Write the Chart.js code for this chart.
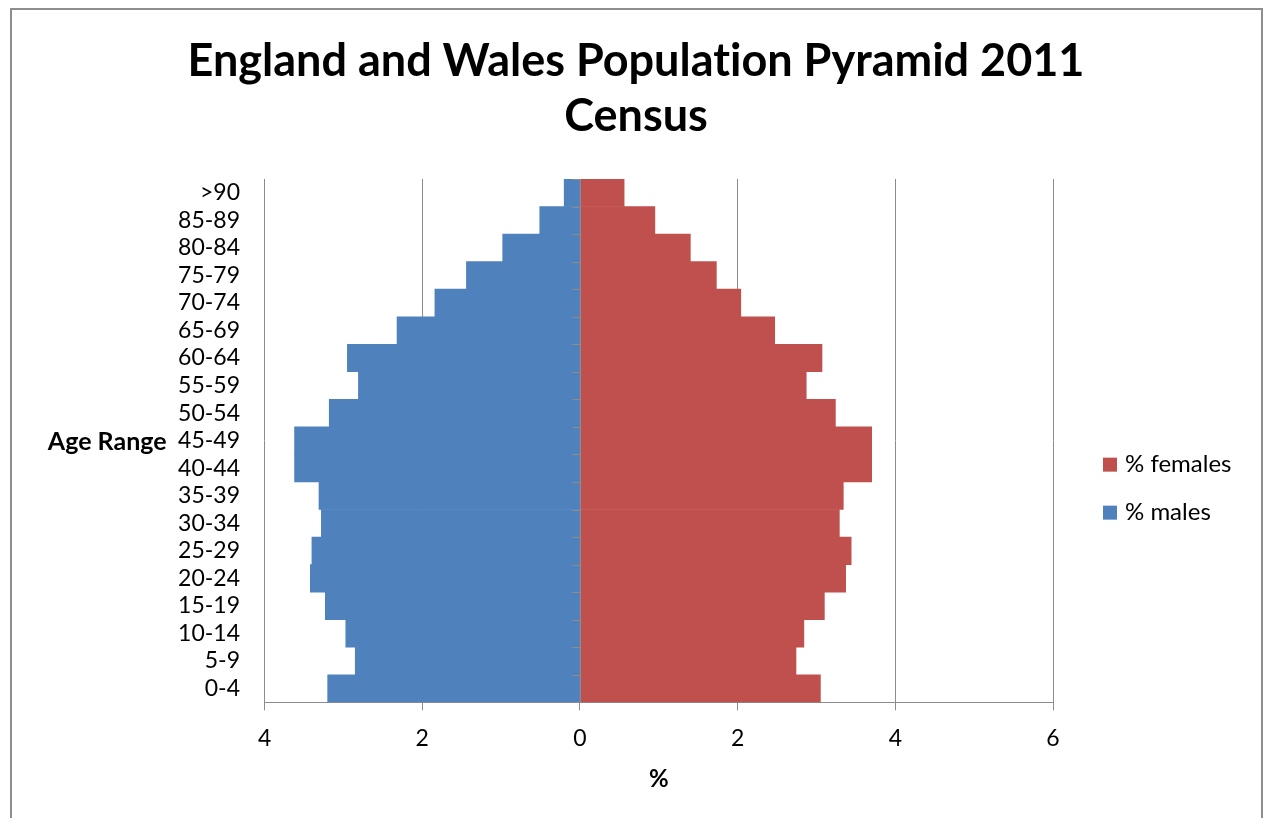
<!DOCTYPE html>
<html>
<head>
<meta charset="utf-8">
<script src="https://cdn.jsdelivr.net/npm/chart.js@4"></script>
<style>
  html, body { margin: 0; padding: 0; background: #ffffff; overflow: hidden; }
  #wrap { position: relative; width: 1268px; height: 818px; }
  #frame { position: absolute; left: 10px; top: 8px; width: 1249px; height: 830px;
           border: 2px solid #8e8e8e; border-bottom: none; pointer-events: none; }
  canvas { position: absolute; left: 0; top: 0; }
</style>
</head>
<body>
<div id="wrap">
  <canvas id="pyramid" width="1268" height="818"></canvas>
  <div id="frame"></div>
</div>
<script>
// Age bands, youngest first (the y axis is reversed so 0-4 sits at the bottom)
const ageGroups = ['0-4', '5-9', '10-14', '15-19', '20-24', '25-29', '30-34', '35-39', '40-44',
                   '45-49', '50-54', '55-59', '60-64', '65-69', '70-74', '75-79', '80-84', '85-89', '>90'];

// Share of the total population in each band (%)
const malesPct   = [3.20, 2.85, 2.97, 3.23, 3.42, 3.40, 3.28, 3.31, 3.62, 3.62,
                    3.18, 2.81, 2.95, 2.32, 1.84, 1.44, 0.98, 0.51, 0.20];
const femalesPct = [3.05, 2.74, 2.84, 3.10, 3.37, 3.44, 3.29, 3.34, 3.70, 3.70,
                    3.24, 2.87, 3.07, 2.47, 2.04, 1.73, 1.40, 0.95, 0.56];

// Tick positions on the % axis (males plotted to the left of zero)
const xTickValues = [-4, -2, 0, 2, 4, 6];

const titleLines = ['England and Wales Population Pyramid 2011', 'Census'];
const seriesNames = { females: '% females', males: '% males' };

const COLORS = { males: '#4F81BD', females: '#C0504D', grid: '#8c8c8c', text: '#000000' };
const FONT = 'Lato, "Open Sans", "Liberation Sans", sans-serif';

// Plain glyphs (no ligatures) for all canvas text
const plainText = {
  id: 'plainText',
  beforeDraw(chart) { chart.ctx.textRendering = 'optimizeSpeed'; }
};

// Zero axis, its category tick marks, the vertical axis caption and the legend
const decorations = {
  id: 'decorations',
  afterDatasetsDraw(chart) {
    const { ctx, chartArea: a, scales: { x, y } } = chart;
    const x0 = Math.round(x.getPixelForValue(0)) + 0.5;
    ctx.save();
    ctx.strokeStyle = COLORS.grid;
    ctx.lineWidth = 1;
    ctx.beginPath();
    ctx.moveTo(x0, a.top);
    ctx.lineTo(x0, a.bottom);
    for (let i = 0; i <= ageGroups.length; i++) {
      const yy = Math.round(y.getPixelForValue(i - 0.5)) + 0.5;
      ctx.moveTo(x0 - 8, yy);
      ctx.lineTo(x0, yy);
    }
    ctx.stroke();

    // "Age Range" caption, horizontal, left of the band labels
    ctx.fillStyle = COLORS.text;
    ctx.font = 'bold 25px ' + FONT;
    ctx.textAlign = 'right';
    ctx.textBaseline = 'middle';
    ctx.fillText('Age Range', a.left - 98, (a.top + a.bottom) / 2 + 1);

    // Legend: females listed first
    const items = chart.data.datasets.slice().reverse();
    const lx = a.right + 50;
    let ly = (a.top + a.bottom) / 2 + 24;
    ctx.font = '24px ' + FONT;
    ctx.textAlign = 'left';
    items.forEach(ds => {
      ctx.fillStyle = ds.backgroundColor;
      ctx.fillRect(lx, ly - 7, 14, 14);
      ctx.fillStyle = COLORS.text;
      ctx.fillText(ds.label, lx + 22, ly);
      ly += 48;
    });
    ctx.restore();
  }
};

new Chart(document.getElementById('pyramid'), {
  type: 'bar',
  data: {
    labels: ageGroups,
    datasets: [
      {
        label: seriesNames.males,
        data: malesPct.map(v => -v),
        backgroundColor: COLORS.males,
        borderWidth: 0,
        barPercentage: 1,
        categoryPercentage: 1
      },
      {
        label: seriesNames.females,
        data: femalesPct,
        backgroundColor: COLORS.females,
        borderWidth: 0,
        barPercentage: 1,
        categoryPercentage: 1
      }
    ]
  },
  options: {
    indexAxis: 'y',
    responsive: false,
    animation: false,
    layout: { padding: { left: 4, right: 0, top: 0, bottom: 0 } },
    plugins: {
      legend: { display: false },
      tooltip: { enabled: false },
      title: {
        display: true,
        text: titleLines,
        color: COLORS.text,
        font: { family: FONT, size: 45, weight: 'bold', lineHeight: '55px' },
        padding: { top: 34, bottom: 35 }
      }
    },
    scales: {
      x: {
        type: 'linear',
        stacked: true,
        min: -4,
        max: 6,
        afterBuildTicks: scale => { scale.ticks = xTickValues.map(v => ({ value: v })); },
        afterFit: scale => { scale.height = 115.7; },
        grid: { color: COLORS.grid, lineWidth: 1, drawTicks: true, tickLength: 8, tickColor: COLORS.grid },
        border: { display: true, color: COLORS.grid, width: 1 },
        ticks: {
          padding: 14.2,
          color: COLORS.text,
          font: { family: FONT, size: 23 },
          callback: v => String(Math.abs(v))
        },
        title: {
          display: true,
          text: '%',
          color: COLORS.text,
          font: { family: FONT, size: 24, weight: 'bold' },
          padding: { top: 0, bottom: 24.3 }
        }
      },
      y: {
        type: 'category',
        stacked: true,
        reverse: true,
        afterFit: scale => { scale.width = 260.6; },
        grid: { display: false, drawTicks: false },
        border: { display: false },
        ticks: {
          padding: 24.6,
          color: COLORS.text,
          font: { family: FONT, size: 23 },
          autoSkip: false
        }
      },
      // Empty right-hand axis that keeps the legend column clear of the plot
      legendSpace: {
        type: 'category',
        position: 'right',
        afterFit: scale => { scale.width = 215; },
        grid: { display: false, drawTicks: false },
        border: { display: false },
        ticks: { display: false }
      }
    }
  },
  plugins: [plainText, decorations]
});
</script>
</body>
</html>
